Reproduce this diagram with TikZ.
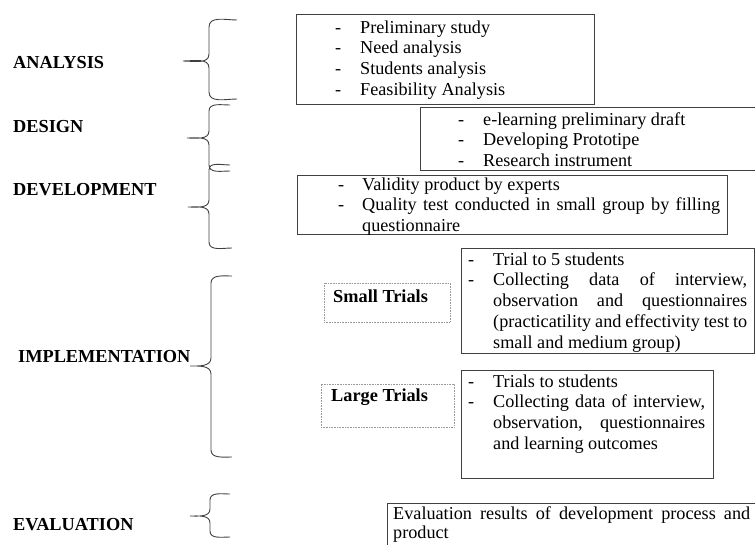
\documentclass[tikz,border=0pt]{standalone}
\usepackage{fontspec}
\setmainfont{Liberation Serif}
\usepackage{array}
\begin{document}
\begin{tikzpicture}[x=1pt,y=-1pt,
  box/.style={draw=black!75, line width=0.8pt, rectangle, inner sep=0pt, outer sep=0pt, anchor=north west},
  dbox/.style={draw=black!40, densely dotted, line width=0.6pt, rectangle, inner sep=0pt, outer sep=0pt, anchor=north west},
  lab/.style={font=\fontsize{18.3}{21}\selectfont\bfseries, anchor=west, inner sep=0pt},
  txt/.style={font=\fontsize{18.2}{20.8}\selectfont, anchor=base west, inner sep=0pt, align=left},
  brc/.style={draw=black!75, line width=0.9pt}]
\useasboundingbox (0,0) rectangle (755,544);
\clip (0,0) rectangle (755,544);

% phase labels
\node[lab] (lan) at (13,63) {ANALYSIS};
\node[lab] (lde) at (13,127) {DESIGN};
\node[lab] (ldv) at (13,190) {DEVELOPMENT};
\node[lab] (lim) at (18,357) {IMPLEMENTATION};
\node[lab] (lev) at (13,525) {EVALUATION};

% braces
\draw[brc] (237,20) to[out=180,in=90] (209,27) -- (209,54) to[out=-90,in=0] (183,61)
  to[out=0,in=90] (209,68) -- (209,92) to[out=-90,in=180] (237,99);
\draw[brc] (230,105) to[out=180,in=90] (209,111) -- (209,131) to[out=-90,in=0] (187,138)
  to[out=0,in=90] (209,145) -- (209,165) to[out=-90,in=180] (230,171);
\draw[brc] (230,165) to[out=180,in=90] (209,170) -- (209,200) to[out=-90,in=0] (188,207)
  to[out=0,in=90] (209,214) -- (209,242) to[out=-90,in=180] (232,248);
\draw[brc] (232,276) to[out=180,in=90] (211,283) -- (211,358) to[out=-90,in=0] (190,366)
  to[out=0,in=90] (211,374) -- (211,450) to[out=-90,in=180] (232,457);
\draw[brc] (230,494) to[out=180,in=90] (210,500) -- (210,509) to[out=-90,in=0] (190,516)
  to[out=0,in=90] (210,523) -- (210,531) to[out=-90,in=180] (230,537);

% boxes
\node[box, minimum width=298pt, minimum height=90pt] (anbox) at (296,14) {};
\node[box, minimum width=345pt, minimum height=63pt] (debox) at (420,107) {};
\node[box, minimum width=430pt, minimum height=59pt] (dvbox) at (297,175) {};
\node[box, minimum width=293pt, minimum height=105pt] (smbox) at (461,248) {};
\node[box, minimum width=252pt, minimum height=108pt] (lgbox) at (461,370) {};
\node[box, minimum width=380pt, minimum height=60pt] (evbox) at (387,503) {};
\node[dbox, minimum width=126pt, minimum height=39pt] (smlab) at (324,283) {};
\node[dbox, minimum width=133pt, minimum height=43pt] (lglab) at (321,384) {};

% box texts
\node[txt] (antext) at (335,33) {\begin{tabular}[t]{@{}p{25pt}@{}l@{}}
- & Preliminary study\\
- & Need analysis\\
- & Students analysis\\
- & Feasibility Analysis
\end{tabular}};

\node[txt] (detext) at (458,125) {\begin{tabular}[t]{@{}p{25pt}@{}l@{}}
- & e-learning preliminary draft\\
- & Developing Prototipe\\
- & Research instrument
\end{tabular}};

\node[txt] (dvtext) at (338,190) {\begin{tabular}[t]{@{}p{24pt}@{}l@{}}
- & Validity product by experts\\
- & \makebox[358pt][s]{Quality test conducted in small group by filling}\\
 & questionnaire
\end{tabular}};

\node[txt] (smtext) at (468,265) {\begin{tabular}[t]{@{}p{25pt}@{}l@{}}
- & Trial to 5 students\\
- & \makebox[254pt][s]{Collecting data of interview,}\\
 & \makebox[254pt][s]{observation and questionnaires}\\
 & \makebox[254pt][s]{(practicatility and effectivity test to}\\
 & small and medium group)
\end{tabular}};

\node[txt] (lgtext) at (468,387) {\begin{tabular}[t]{@{}p{25pt}@{}l@{}}
- & Trials to students\\
- & \makebox[212pt][s]{Collecting data of interview,}\\
 & \makebox[212pt][s]{observation, questionnaires}\\
 & and learning outcomes
\end{tabular}};

\node[txt, font=\fontsize{18.2}{19.5}\selectfont] (evtext) at (393,519)
  {\begin{tabular}[t]{@{}l@{}}
\makebox[357pt][s]{Evaluation results of development process and}\\
product
\end{tabular}};

\node[lab] (smname) at (333,296) {Small Trials};
\node[lab] (lgname) at (331,397) {Large Trials};
\end{tikzpicture}
\end{document}
